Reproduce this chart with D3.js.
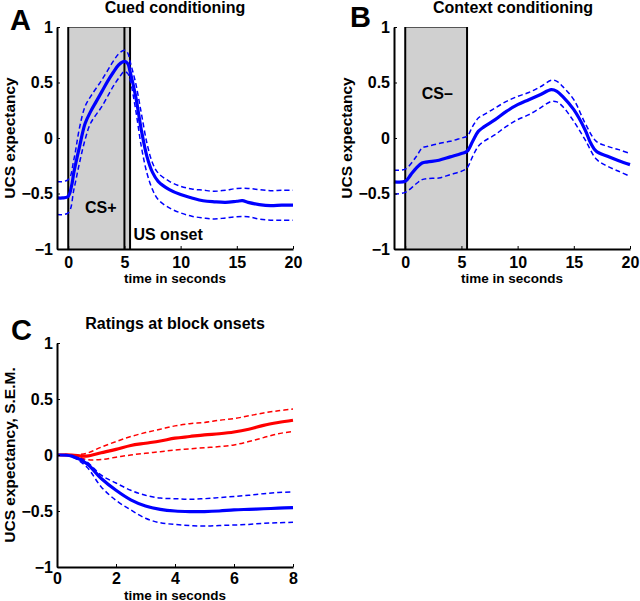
<!DOCTYPE html>
<html><head><meta charset="utf-8">
<script src="https://cdn.jsdelivr.net/npm/d3@7"></script>
<style>
body{margin:0;background:#fff;}
svg text{font-family:"Liberation Sans",Arial,sans-serif;font-weight:bold;fill:#000;}
</style>
</head><body>
<svg id="c" width="640" height="601"></svg>
<script>
// ---------- DATA ----------
// Panel A: cued conditioning
const timeA = [-1,-0.5,0,0.3,0.5,1,1.5,2,2.5,3,3.5,4,4.5,5,5.3,5.5,6,6.5,7,7.5,8,9,10,11,12,13,14,15,15.5,16,17,18,19,20];
const meanA = [-0.54,-0.54,-0.525,-0.43,-0.31,-0.08,0.13,0.24,0.33,0.42,0.51,0.59,0.66,0.69,0.67,0.6,0.375,0.075,-0.165,-0.31,-0.39,-0.465,-0.51,-0.54,-0.565,-0.575,-0.58,-0.57,-0.565,-0.58,-0.6,-0.61,-0.605,-0.605];
const timeAsem = [-1,0,0.5,1,1.5,2,3,4,4.5,5,5.3,5.5,6,6.5,7,7.5,8,9,10,11,12,13,14,15,16,17,18,19,20];
const upperA = [-0.395,-0.375,-0.195,0.09,0.285,0.375,0.525,0.69,0.76,0.79,0.765,0.69,0.495,0.225,-0.045,-0.225,-0.315,-0.39,-0.435,-0.46,-0.47,-0.48,-0.47,-0.455,-0.455,-0.465,-0.475,-0.47,-0.47];
const lowerA = [-0.69,-0.675,-0.465,-0.225,-0.015,0.135,0.285,0.465,0.54,0.6,0.58,0.525,0.255,-0.075,-0.315,-0.465,-0.555,-0.63,-0.675,-0.705,-0.72,-0.73,-0.72,-0.71,-0.71,-0.73,-0.74,-0.74,-0.74];

// Panel B: context conditioning
const timeB = [-1,0,0.5,1,1.5,2,3,4,5,5.5,6,6.5,7,8,9,10,11,12,13,13.5,14,15,16,16.5,17,18,19,20];
const meanB = [-0.395,-0.39,-0.33,-0.27,-0.225,-0.215,-0.2,-0.17,-0.14,-0.12,-0.03,0.06,0.1,0.165,0.24,0.3,0.345,0.39,0.435,0.42,0.375,0.255,0.075,-0.045,-0.12,-0.165,-0.205,-0.24];
const timeBsem = [-1,0,1,1.5,2,3,4,5,5.5,6,6.5,7,8,9,10,11,12,13,13.5,14,15,16,17,18,19,20];
const upperB = [-0.29,-0.28,-0.165,-0.09,-0.075,-0.05,-0.03,0.0,0.015,0.105,0.18,0.21,0.27,0.33,0.375,0.41,0.46,0.52,0.51,0.465,0.345,0.135,-0.03,-0.075,-0.105,-0.14];
const lowerB = [-0.505,-0.49,-0.41,-0.375,-0.365,-0.36,-0.33,-0.3,-0.27,-0.165,-0.075,-0.03,0.03,0.105,0.165,0.21,0.27,0.33,0.325,0.285,0.15,-0.015,-0.19,-0.255,-0.3,-0.345];

// Panel C: ratings at block onsets
const timeC = [0,0.5,1,1.5,2,2.5,3,3.5,4,4.5,5,5.5,6,6.5,7,7.5,8];
const redMean  = [0,0,-0.01,0.02,0.05,0.085,0.105,0.125,0.15,0.165,0.18,0.19,0.205,0.23,0.265,0.29,0.31];
const redUpper = [0,0,0.015,0.07,0.12,0.165,0.2,0.23,0.26,0.28,0.29,0.31,0.325,0.35,0.375,0.395,0.41];
const redLower = [0,0,-0.04,-0.04,-0.02,0,0.015,0.03,0.045,0.055,0.065,0.075,0.09,0.12,0.155,0.19,0.21];
const blueMean  = [0,-0.01,-0.075,-0.21,-0.315,-0.4,-0.455,-0.485,-0.5,-0.505,-0.505,-0.5,-0.49,-0.485,-0.48,-0.475,-0.47];
const blueUpper = [0,0,-0.06,-0.18,-0.25,-0.315,-0.36,-0.385,-0.39,-0.395,-0.39,-0.38,-0.37,-0.36,-0.345,-0.335,-0.33];
const blueLower = [0,-0.015,-0.105,-0.285,-0.405,-0.49,-0.565,-0.605,-0.62,-0.63,-0.635,-0.63,-0.625,-0.62,-0.61,-0.605,-0.6];

const yTicks = [-1,-0.5,0,0.5,1];
const xTicksAB = [0,5,10,15,20];
const xTicksC = [0,2,4,6,8];

// ---------- DRAW ----------
const svg = d3.select("#c");
const BLUE = "#0000ff", RED = "#ff0000", GRAY = "#d0d0d0";
const fmt = d => d === 0 ? "0" : String(d).replace("-", "\u2212");

function panel(o){
  const g = svg.append("g");
  const x = d3.scaleLinear().domain(o.xdom).range(o.xr);
  const y = d3.scaleLinear().domain([-1,1]).range(o.yr);
  if (o.box){
    g.append("rect").attr("x", x(o.box[0])).attr("y", y(1))
      .attr("width", x(o.box[1]) - x(o.box[0])).attr("height", y(-1) - y(1))
      .attr("fill", GRAY);
    g.append("line").attr("x1", x(o.box[0])).attr("x2", x(o.box[1]))
      .attr("y1", y(1)+0.5).attr("y2", y(1)+0.5).attr("stroke","#555").attr("stroke-width",1.2);
    o.vlines.forEach(v => g.append("line").attr("x1", x(v)).attr("x2", x(v))
      .attr("y1", y(1)).attr("y2", y(-1)).attr("stroke","#000").attr("stroke-width",2));
  }
  const line = (xs, ys) => d3.line().x((d,i)=>x(xs[i])).y(d=>y(d)).curve(d3.curveCatmullRom)(ys);
  o.series.forEach(s => {
    g.append("path").attr("d", line(s.t, s.u)).attr("fill","none").attr("stroke", s.c)
      .attr("stroke-width",1.5).attr("stroke-dasharray","5,3");
    g.append("path").attr("d", line(s.t, s.l)).attr("fill","none").attr("stroke", s.c)
      .attr("stroke-width",1.5).attr("stroke-dasharray","5,3");
  });
  o.series.forEach(s => {
    g.append("path").attr("d", line(s.tm, s.m)).attr("fill","none").attr("stroke", s.c)
      .attr("stroke-width",3.2).attr("stroke-linejoin","round");
  });
  const ax = g.append("g").attr("transform", `translate(0,${o.yr[0]})`)
    .call(d3.axisBottom(x).tickValues(o.xticks).tickFormat(fmt).tickSizeInner(-3).tickSizeOuter(0).tickPadding(o.xpad));
  const ay = g.append("g").attr("transform", `translate(${o.xr[0]},0)`)
    .call(d3.axisLeft(y).tickValues(yTicks).tickFormat(fmt).tickSizeInner(-3).tickSizeOuter(0).tickPadding(4));
  [ax, ay].forEach(a => {
    a.select(".domain").attr("stroke","#000").attr("stroke-width",2);
    a.selectAll(".tick line").attr("stroke","#000").attr("stroke-width",1);
    a.selectAll("text").attr("font-size",16).attr("font-family","Liberation Sans, Arial, sans-serif").attr("font-weight","bold");
  });
  const cx = (o.xr[0] + o.xr[1]) / 2;
  g.append("text").attr("x", cx).attr("y", o.xlabY).attr("text-anchor","middle")
    .attr("font-size",13.5).text("time in seconds");
  g.append("text").attr("x", cx + (o.titleDx||0)).attr("y", o.yr[1] - 14).attr("text-anchor","middle")
    .attr("font-size",16).text(o.title);
  g.append("text").attr("transform", `translate(${o.ylabX},${(o.yr[0]+o.yr[1])/2}) rotate(-90)`)
    .attr("text-anchor","middle").attr("font-size",15.5).text(o.ylab);
  g.append("text").attr("x", o.letter[1]).attr("y", o.letter[2]).attr("font-size",29).text(o.letter[0]);
  (o.notes||[]).forEach(n => g.append("text").attr("x", x(n[1])).attr("y", y(n[2]))
    .attr("text-anchor", n[3]).attr("font-size",16).text(n[0]));
}

panel({xdom:[-1,20], xr:[57,293], yr:[249,27], xticks:xTicksAB, xpad:8, xlabY:283, box:[0,5.5], vlines:[0,5,5.5],
  series:[{t:timeAsem,u:upperA,l:lowerA,tm:timeA,m:meanA,c:BLUE}],
  title:"Cued conditioning", ylab:"UCS expectancy", ylabX:15, letter:["A",10,30],
  notes:[["CS+",2.9,-0.68,"middle"],["US onset",5.8,-0.92,"start"]]});

panel({xdom:[-1,20], xr:[394,630], yr:[249,27], xticks:xTicksAB, xpad:8, xlabY:283, box:[0,5.5], vlines:[0,5.5],
  series:[{t:timeBsem,u:upperB,l:lowerB,tm:timeB,m:meanB,c:BLUE}],
  title:"Context conditioning", titleDx:1, ylab:"UCS expectancy", ylabX:352, letter:["B",350,27],
  notes:[["CS\u2013",2.85,0.35,"middle"]]});

panel({xdom:[0,8], xr:[57,293], yr:[567,343], xticks:xTicksC, xpad:6, xlabY:599.5,
  series:[{t:timeC,u:redUpper,l:redLower,tm:timeC,m:redMean,c:RED},
          {t:timeC,u:blueUpper,l:blueLower,tm:timeC,m:blueMean,c:BLUE}],
  title:"Ratings at block onsets", ylab:"UCS expectancy, S.E.M.", ylabX:15, letter:["C",11,340]});
</script>
</body></html>
